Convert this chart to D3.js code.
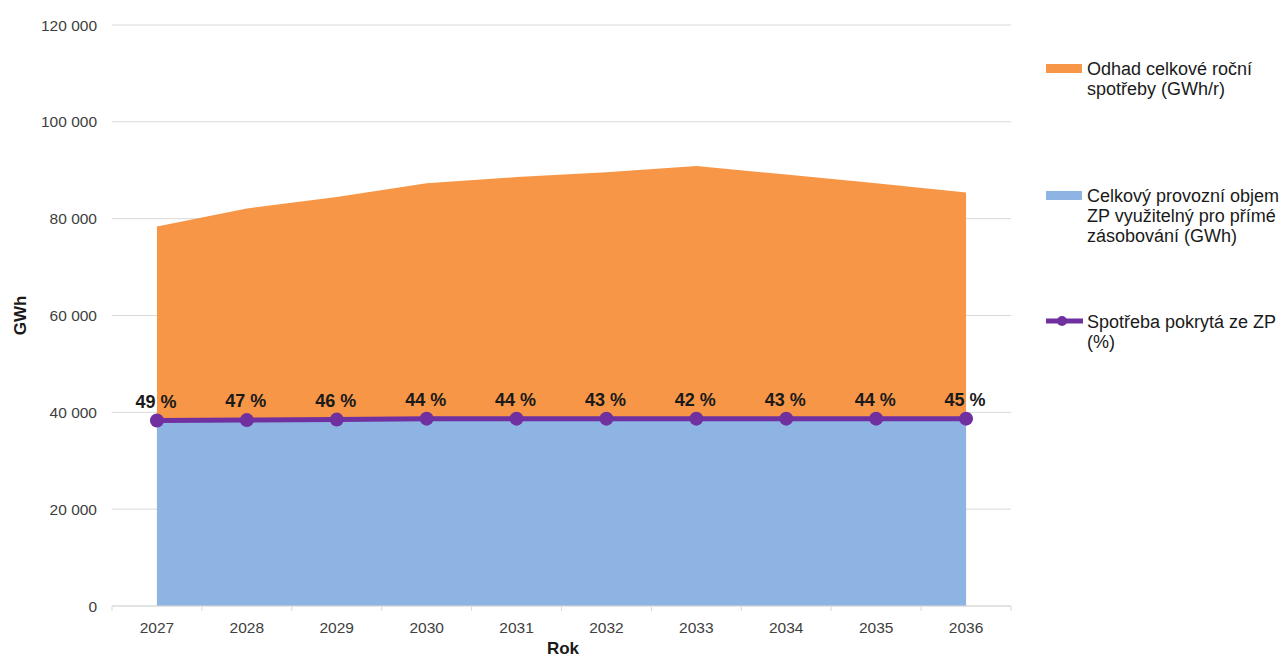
<!DOCTYPE html>
<html>
<head>
<meta charset="utf-8">
<script src="https://cdn.jsdelivr.net/npm/d3@7"></script>
<style>
  body { margin: 0; background: #fff; }
  svg { font-family: "Liberation Sans", Arial, sans-serif; }
</style>
</head>
<body>
<div id="chart"></div>
<script>
const years = ["2027", "2028", "2029", "2030", "2031", "2032", "2033", "2034", "2035", "2036"];
const consumption = [78400, 82100, 84500, 87300, 88600, 89600, 90900, 89100, 87300, 85400];
const storage = [38300, 38400, 38500, 38700, 38700, 38700, 38700, 38700, 38700, 38700];
const coverage = [49, 47, 46, 44, 44, 43, 42, 43, 44, 45];
const yTicks = [0, 20000, 40000, 60000, 80000, 100000, 120000];
const legendItems = [
    { key: "consumption", lines: ["Odhad celkové roční", "spotřeby (GWh/r)"], color: "#f79646" },
    { key: "storage", lines: ["Celkový provozní objem", "ZP využitelný pro přímé", "zásobování (GWh)"], color: "#8eb4e3" },
    { key: "coverage", lines: ["Spotřeba pokrytá ze ZP", "(%)"], color: "#7030a0" }
];

const width = 1285;
const height = 659;
const margin = { top: 25, right: 274, bottom: 53, left: 112 };

const data = years.map((y, i) => ({ year: y, total: consumption[i], zp: storage[i], pct: coverage[i] }));

const svg = d3.select("#chart")
    .append("svg")
    .attr("width", width)
    .attr("height", height);

const x = d3.scaleBand()
    .domain(years)
    .range([margin.left, width - margin.right])
    .padding(0);
const cx = (d) => x(d) + x.bandwidth() / 2;

const y = d3.scaleLinear()
    .domain([0, 120000])
    .range([height - margin.bottom, margin.top]);

// gridlines + y labels
svg.append("g")
    .selectAll("line")
    .data(yTicks)
    .enter()
    .append("line")
    .attr("x1", margin.left)
    .attr("x2", width - margin.right)
    .attr("y1", (d) => y(d))
    .attr("y2", (d) => y(d))
    .attr("stroke", "#d9d9d9")
    .attr("stroke-width", 1);

svg.append("g")
    .selectAll("text")
    .data(yTicks)
    .enter()
    .append("text")
    .attr("x", 97)
    .attr("y", (d) => y(d) + 5.5)
    .attr("text-anchor", "end")
    .style("font-size", "15.5px")
    .style("fill", "#404040")
    .text((d) => d3.format(",")(d).replace(/,/g, " "));

// areas
const areaTotal = d3.area()
    .x((d) => cx(d.year))
    .y0(y(0))
    .y1((d) => y(d.total));

const areaZp = d3.area()
    .x((d) => cx(d.year))
    .y0(y(0))
    .y1((d) => y(d.zp));

svg.append("path")
    .datum(data)
    .attr("d", areaTotal)
    .attr("fill", "#f79646");

svg.append("path")
    .datum(data)
    .attr("d", areaZp)
    .attr("fill", "#8eb4e3");

// x axis
const xAxis = svg.append("g")
    .attr("transform", `translate(0,${y(0)})`);

xAxis.append("line")
    .attr("x1", margin.left)
    .attr("x2", width - margin.right)
    .attr("stroke", "#d9d9d9");

const bounds = years.map((d) => x(d)).concat([x(years[years.length - 1]) + x.bandwidth()]);
xAxis.selectAll(".tick-mark")
    .data(bounds)
    .enter()
    .append("line")
    .attr("x1", (d) => d)
    .attr("x2", (d) => d)
    .attr("y1", 0)
    .attr("y2", 5)
    .attr("stroke", "#d9d9d9");

xAxis.selectAll(".tick-label")
    .data(years)
    .enter()
    .append("text")
    .attr("x", (d) => cx(d))
    .attr("y", 27)
    .attr("text-anchor", "middle")
    .style("font-size", "15.5px")
    .style("fill", "#404040")
    .text((d) => d);

// line
const line = d3.line()
    .x((d) => cx(d.year))
    .y((d) => y(d.zp));

svg.append("path")
    .datum(data)
    .attr("d", line)
    .attr("fill", "none")
    .attr("stroke", "#7030a0")
    .attr("stroke-width", 5);

svg.selectAll(".dot")
    .data(data)
    .enter()
    .append("circle")
    .attr("cx", (d) => cx(d.year))
    .attr("cy", (d) => y(d.zp))
    .attr("r", 7)
    .attr("fill", "#7030a0");

svg.selectAll(".pct")
    .data(data)
    .enter()
    .append("text")
    .attr("x", (d) => cx(d.year) - 1)
    .attr("y", (d) => y(d.zp) - 13)
    .attr("text-anchor", "middle")
    .style("font-size", "18px")
    .style("font-weight", "bold")
    .style("fill", "#1a1a1a")
    .text((d) => d.pct + " %");

// axis titles
svg.append("text")
    .attr("transform", `translate(26,${(y(0) + y(120000)) / 2}) rotate(-90)`)
    .attr("text-anchor", "middle")
    .style("font-size", "17px")
    .style("font-weight", "bold")
    .style("fill", "#1a1a1a")
    .text("GWh");

svg.append("text")
    .attr("x", 563)
    .attr("y", 654)
    .attr("text-anchor", "middle")
    .style("font-size", "17px")
    .style("font-weight", "bold")
    .style("fill", "#1a1a1a")
    .text("Rok");

// legend
const legendTop = [75, 202, 328];
const legend = svg.append("g");

legendItems.forEach((item, i) => {
    const g = legend.append("g").attr("transform", `translate(1046,${legendTop[i]})`);
    if (item.key === "coverage") {
        g.append("line")
            .attr("x1", 0).attr("x2", 37)
            .attr("y1", -7).attr("y2", -7)
            .attr("stroke", item.color)
            .attr("stroke-width", 5);
        g.append("circle")
            .attr("cx", 16).attr("cy", -7)
            .attr("r", 5)
            .attr("fill", item.color);
    } else {
        g.append("rect")
            .attr("x", 0).attr("y", -11)
            .attr("width", 36).attr("height", 9)
            .attr("fill", item.color);
    }
    g.selectAll("text")
        .data(item.lines)
        .enter()
        .append("text")
        .attr("x", 41)
        .attr("y", (d, j) => j * 20)
        .style("font-size", "18px")
        .style("fill", "#1a1a1a")
        .text((d) => d);
});
</script>
</body>
</html>
